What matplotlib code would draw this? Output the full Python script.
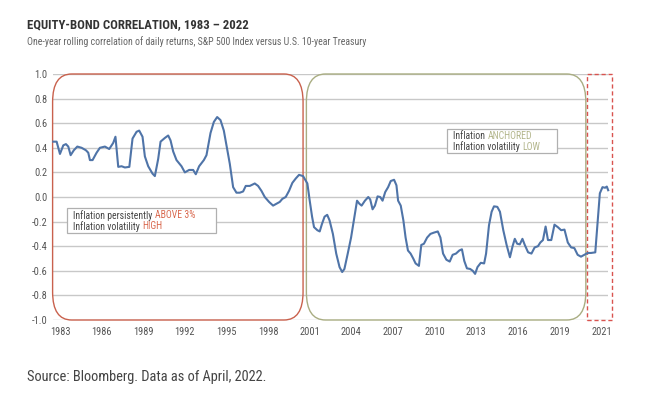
import numpy as np
import matplotlib
matplotlib.use("Agg")
import matplotlib.pyplot as plt
from matplotlib import font_manager
from matplotlib.patches import FancyBboxPatch, Rectangle

# --- data (fractional year, correlation) ---
years = [
    1982.52, 1982.76, 1983.00, 1983.24, 1983.43, 1983.60, 1983.77, 1984.00, 1984.25, 1984.56,
    1984.87, 1985.04, 1985.16, 1985.35, 1985.64, 1985.88, 1986.24, 1986.55, 1986.84, 1987.00,
    1987.20, 1987.44, 1987.68, 1988.00, 1988.23, 1988.52, 1988.71, 1988.95, 1989.12, 1989.36,
    1989.67, 1989.84, 1990.08, 1990.25, 1990.56, 1990.80, 1990.97, 1991.16, 1991.40, 1991.76,
    1992.00, 1992.31, 1992.60, 1992.79, 1993.03, 1993.37, 1993.56, 1993.85, 1994.09, 1994.33,
    1994.57, 1994.81, 1995.00, 1995.24, 1995.48, 1995.72, 1995.96, 1996.20, 1996.39, 1996.68,
    1997.04, 1997.28, 1997.52, 1997.76, 1998.07, 1998.36, 1998.60, 1998.84, 1999.03, 1999.27,
    1999.51, 1999.75, 1999.99, 2000.23, 2000.52, 2000.83, 2001.00, 2001.17, 2001.31, 2001.55,
    2001.72, 2001.88, 2002.07, 2002.26, 2002.43, 2002.67, 2002.91, 2003.15, 2003.34, 2003.50,
    2003.74, 2003.98, 2004.22, 2004.41, 2004.58, 2004.74, 2004.98, 2005.22, 2005.36, 2005.53,
    2005.70, 2005.89, 2006.08, 2006.25, 2006.44, 2006.65, 2006.84, 2007.08, 2007.25, 2007.37,
    2007.56, 2007.75, 2007.91, 2008.08, 2008.27, 2008.46, 2008.63, 2008.87, 2009.04, 2009.23,
    2009.46, 2009.70, 2009.94, 2010.23, 2010.42, 2010.61, 2010.85, 2011.09, 2011.30, 2011.54,
    2011.78, 2011.97, 2012.14, 2012.33, 2012.56, 2012.75, 2012.92, 2013.09, 2013.33, 2013.57,
    2013.71, 2013.92, 2014.11, 2014.28, 2014.52, 2014.71, 2014.95, 2015.19, 2015.43, 2015.62,
    2015.78, 2015.95, 2016.14, 2016.33, 2016.50, 2016.74, 2016.98, 2017.21, 2017.45, 2017.62,
    2017.81, 2018.00, 2018.17, 2018.41, 2018.64, 2018.88, 2019.12, 2019.36, 2019.60, 2019.84,
    2020.07, 2020.31, 2020.55, 2020.79, 2021.03, 2021.27, 2021.58, 2021.74, 2021.91, 2022.10,
    2022.29, 2022.41, 2022.51,
]
corr = [
    0.45, 0.45, 0.35, 0.42, 0.43, 0.41, 0.34, 0.38, 0.41, 0.40,
    0.38, 0.36, 0.30, 0.30, 0.36, 0.40, 0.41, 0.39, 0.44, 0.49,
    0.245, 0.25, 0.24, 0.245, 0.475, 0.53, 0.54, 0.49, 0.33, 0.25,
    0.19, 0.17, 0.31, 0.45, 0.48, 0.50, 0.46, 0.37, 0.30, 0.25,
    0.20, 0.22, 0.22, 0.185, 0.25, 0.30, 0.34, 0.52, 0.61, 0.65,
    0.625, 0.54, 0.42, 0.27, 0.08, 0.035, 0.035, 0.045, 0.09, 0.09,
    0.11, 0.09, 0.05, 0.00, -0.04, -0.07, -0.055, -0.04, -0.015, 0.00,
    0.05, 0.115, 0.15, 0.18, 0.17, 0.11, -0.03, -0.16, -0.245, -0.27,
    -0.28, -0.22, -0.16, -0.145, -0.19, -0.30, -0.46, -0.57, -0.61, -0.585,
    -0.46, -0.33, -0.16, -0.03, -0.055, -0.07, -0.03, 0.00, -0.02, -0.10,
    -0.07, 0.005, 0.00, -0.03, 0.04, 0.08, 0.13, 0.14, 0.095, -0.03,
    -0.07, -0.19, -0.33, -0.435, -0.46, -0.50, -0.54, -0.56, -0.39, -0.38,
    -0.33, -0.30, -0.29, -0.28, -0.33, -0.46, -0.51, -0.525, -0.47, -0.46,
    -0.435, -0.425, -0.52, -0.58, -0.585, -0.60, -0.625, -0.57, -0.535, -0.54,
    -0.46, -0.23, -0.12, -0.076, -0.08, -0.12, -0.27, -0.39, -0.49, -0.40,
    -0.34, -0.38, -0.385, -0.34, -0.39, -0.45, -0.46, -0.41, -0.40, -0.37,
    -0.35, -0.24, -0.35, -0.35, -0.225, -0.245, -0.27, -0.265, -0.37, -0.41,
    -0.415, -0.47, -0.485, -0.47, -0.455, -0.455, -0.45, -0.22, 0.03, 0.08,
    0.075, 0.085, 0.055,
]

xtick_pos = [1983, 1986, 1989, 1992, 1995, 1998, 2001, 2004, 2007, 2010, 2013, 2016, 2019, 2022.05]
xtick_labels = ["1983", "1986", "1989", "1992", "1995", "1998", "2001", "2004", "2007",
                "2010", "2013", "2016", "2019", "2021"]
ytick_pos = [-1.0, -0.8, -0.6, -0.4, -0.2, 0.0, 0.2, 0.4, 0.6, 0.8, 1.0]
ytick_labels = ["-1.0", "-0.8", "-0.6", "-0.4", "-0.2", "0.0", "0.2", "0.4", "0.6", "0.8", "1.0"]

# regimes (start year, end year)
high_regime = (1982.47, 2000.52)
anchored_regime = (2000.76, 2020.90)
recent_regime = (2020.98, 2022.75)

RED = "#c9614d"
RED_TXT = "#d9694f"
GREEN = "#a9ad82"
GREEN_TXT = "#b3b68c"
LINE = "#4f74a8"
TXT = "#444444"


def pick_font(names):
    avail = {f.name for f in font_manager.fontManager.ttflist}
    for n in names:
        if n in avail:
            return n
    return None


NARROW = pick_font(["Roboto Condensed", "Open Sans Condensed", "Barlow Semi Condensed",
                    "Asap Condensed"])
if NARROW:
    plt.rcParams["font.family"] = [NARROW, "DejaVu Sans"]
else:
    plt.rcParams["font.family"] = ["DejaVu Sans"]
    plt.rcParams["font.stretch"] = "condensed"

fig = plt.figure(figsize=(6.45, 3.94), dpi=100)
ax = fig.add_axes([0.0822, 0.1878, 0.8605, 0.6244])

ax.set_xlim(1982.5, 2022.5)
ax.set_ylim(-1.0, 1.0)
for y in ytick_pos:
    ax.axhline(y, color="#c8c8c8", lw=1.0, zorder=1)
for s in ax.spines.values():
    s.set_visible(False)
ax.set_yticks(ytick_pos, ytick_labels)
ax.set_xticks(xtick_pos, xtick_labels)
ax.tick_params(length=0, labelsize=7.5, colors="#555555")
ax.tick_params(axis="x", pad=5)
ax.tick_params(axis="y", pad=4)

# rounded regime boxes
box_kw = dict(boxstyle="round,pad=0,rounding_size=1.37", mutation_aspect=0.166,
              fill=False, lw=1.0, clip_on=False, zorder=2)
ax.add_patch(FancyBboxPatch((high_regime[0], -1.0), high_regime[1] - high_regime[0], 2.0,
                            ec=RED, **box_kw))
ax.add_patch(FancyBboxPatch((anchored_regime[0], -1.0), anchored_regime[1] - anchored_regime[0], 2.0,
                            ec=GREEN, **box_kw))
ax.add_patch(Rectangle((recent_regime[0], -1.0), recent_regime[1] - recent_regime[0], 2.0,
                       fill=False, ec="#d9534f", lw=1.0, ls=(0, (3, 2)), clip_on=False, zorder=2))

ax.plot(years, corr, color=LINE, lw=1.5, zorder=4, clip_on=False)


def label_box(x0, x1, y0, y1, lines, accent):
    ax.add_patch(Rectangle((x0, y0), x1 - x0, y1 - y0, fc="white", ec="#b0b0b0",
                           lw=0.9, zorder=5))
    ys = [y1 - (y1 - y0) * 0.30, y1 - (y1 - y0) * 0.74]
    for (plain, colored), yy in zip(lines, ys):
        t = ax.text(x0 + 0.45, yy, plain, fontsize=7.0, color=TXT, va="center",
                    ha="left", zorder=6)
        ax.annotate(colored, xy=(1, 0.5), xycoords=t, va="center", ha="left",
                    fontsize=7.0, color=accent, zorder=6)


label_box(1983.5, 1994.25, -0.29, -0.09,
          [("Inflation persistently ", "ABOVE 3%"), ("Inflation volatility ", "HIGH")], RED_TXT)
label_box(2010.9, 2018.8, 0.36, 0.55,
          [("Inflation ", "ANCHORED"), ("Inflation volatility ", "LOW")], GREEN_TXT)

fig.text(27 / 645, 1 - 25 / 394, "EQUITY-BOND CORRELATION, 1983 \u2013 2022", fontsize=9.2,
         fontweight="bold", color="#333333", va="center", ha="left")
fig.text(27 / 645, 1 - 42 / 394,
         "One-year rolling correlation of daily returns, S&P 500 Index versus U.S. 10-year Treasury",
         fontsize=7.1, color="#666666", va="center", ha="left")
fig.text(27 / 645, 1 - 377 / 394, "Source: Bloomberg. Data as of April, 2022.",
         fontsize=10.4, color="#444444", va="center", ha="left")

fig.savefig("out.png", dpi=100)
